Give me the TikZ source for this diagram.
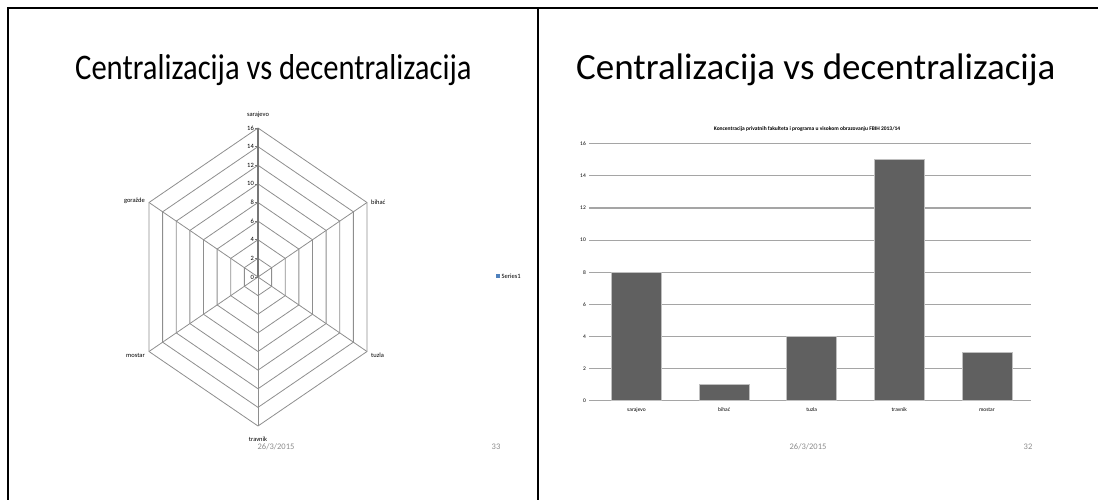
\documentclass[tikz,border=0pt]{standalone}
\usepackage{fontspec}
\setmainfont{Carlito}
\definecolor{gridgray}{HTML}{8E8E8E}
\definecolor{axisgray}{HTML}{777777}
\definecolor{bargray}{HTML}{606060}
\definecolor{footgray}{HTML}{8B8B8B}
\definecolor{seriesblue}{HTML}{4F81BD}

\begin{document}
\begin{tikzpicture}[x=1pt,y=-1pt,
  slidetitle/.style={font=\fontsize{36}{40}\selectfont, inner sep=0pt, anchor=base west},
  small/.style={font=\fontsize{6.5}{7}\selectfont, inner sep=1pt},
  tiny/.style={font=\fontsize{5.5}{6}\selectfont, inner sep=1pt},
  foot/.style={font=\fontsize{8.5}{10}\selectfont, text=footgray, inner sep=0pt},
  ring/.style={draw=gridgray, line width=0.8pt},
  gridline/.style={draw=gridgray!80, line width=1.2pt},
  bar/.style={fill=bargray, draw=white!75!black, line width=0.6pt}]
\useasboundingbox (0,0) rectangle (1098,500);

% frame of the two slides
\draw[line width=2.2pt] (8,500) -- (8,8) -- (1098,8);
\draw[line width=2.2pt] (538,8) -- (538,500);

% titles
\node[slidetitle] (tleft) at (75,79.3) {\scalebox{0.85}[1]{Centralizacija vs decentralizacija}};
\node[slidetitle, font=\fontsize{37}{41}\selectfont] (tright) at (576,79.3) {Centralizacija vs decentralizacija};

% radar chart
\coordinate (c) at (258,277);
\foreach \v in {2,4,...,16} {
  \pgfmathsetmacro\a{109*\v/16}
  \pgfmathsetmacro\b{74.5*\v/16}
  \pgfmathsetmacro\h{149*\v/16}
  \draw[ring] (258,277-\h) -- (258+\a,277-\b) -- (258+\a,277+\b)
    -- (258,277+\h) -- (258-\a,277+\b) -- (258-\a,277-\b) -- cycle;
}
\coordinate (sar) at (258,128);
\coordinate (bih) at (367,202.5);
\coordinate (tuz) at (367,351.5);
\coordinate (tra) at (258,426);
\coordinate (mos) at (149,351.5);
\coordinate (gor) at (149,202.5);
\draw[ring] (c) -- (bih);
\draw[ring] (c) -- (tuz);
\draw[ring] (c) -- (tra);
\draw[ring] (c) -- (mos);
\draw[ring] (c) -- (gor);
\draw[draw=axisgray, line width=1.2pt] (c) -- (sar);
\foreach \v in {0,2,...,16} {
  \draw[draw=axisgray, line width=0.6pt] (255,277-9.3125*\v) -- (258,277-9.3125*\v);
  \node[small, anchor=east] (n\v) at (255,277-9.3125*\v) {\v};
}

\node[small] (lsar) at (258,115) {sarajevo};
\node[small, anchor=west] (lbih) at (370,202) {bihać};
\node[small, anchor=west] (ltuz) at (370,355) {tuzla};
\node[small] (ltra) at (258,439) {travnik};
\node[small, anchor=east] (lmos) at (146,355) {mostar};
\node[small, anchor=east] (lgor) at (146,201) {goražde};

\fill[seriesblue] (496,274) rectangle (500,278);
\node[small, anchor=west] (series) at (500.5,276) {Series1};

% bar chart
\node[tiny, font=\fontsize{5.5}{6}\selectfont\bfseries] (ctitle) at (807,129)
  {Koncentracija privatnih fakulteta i programa u visokom obrazovanju FBIH 2013/14};
\foreach \v in {0,2,...,16} {
  \draw[gridline] (589,400.7-16.06*\v) -- (1030.7,400.7-16.06*\v);
  \node[tiny, anchor=east] (g\v) at (587,400.7-16.06*\v) {\v};
}
\foreach \i/\v/\n in {0/8/sarajevo,1/1/bihać,2/4/tuzla,3/15/travnik,4/3/mostar} {
  \draw[bar] (611.5+87.6*\i,400.7) rectangle (661.5+87.6*\i,400.7-16.06*\v);
  \node[tiny] (b\i) at (636.5+87.6*\i,410) {\n};
}

% footers
\node[foot] (dleft) at (276,447) {26/3/2015};
\node[foot] (pleft) at (496,447) {33};
\node[foot] (dright) at (808,447) {26/3/2015};
\node[foot] (pright) at (1028,447) {32};
\end{tikzpicture}
\end{document}
